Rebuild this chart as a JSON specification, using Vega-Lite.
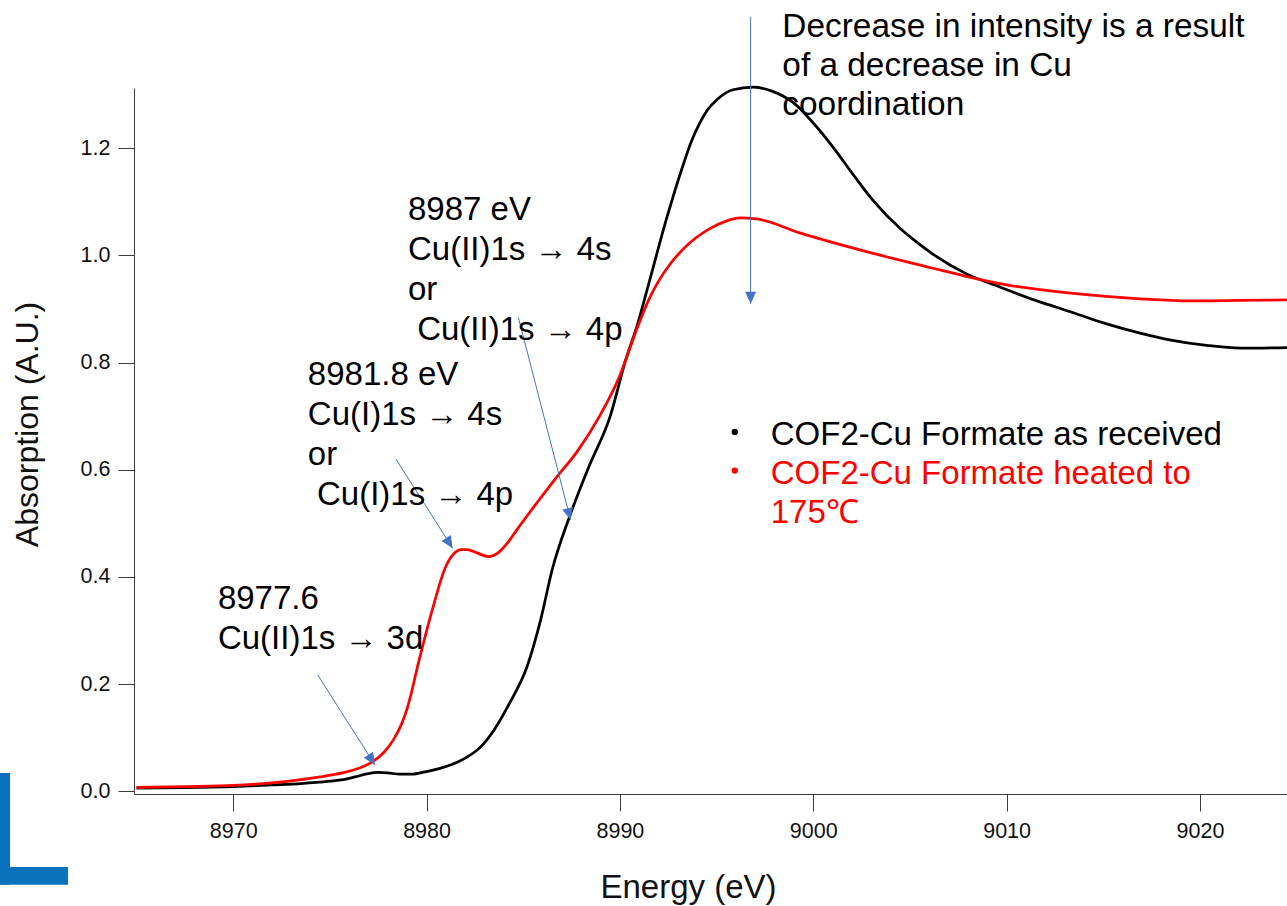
{
  "$schema": "https://vega.github.io/schema/vega-lite/v6.json",
  "width": 1153,
  "height": 706,
  "autosize": {"type": "none"},
  "padding": {"left": 134, "top": 88, "right": 0, "bottom": 112},
  "background": "#ffffff",
  "config": {
    "view": {"stroke": null},
    "font": "Liberation Sans",
    "axis": {
      "grid": false,
      "domainColor": "#3c3c3c",
      "tickColor": "#3c3c3c",
      "labelColor": "#111111",
      "titleColor": "#111111",
      "labelFont": "Liberation Sans",
      "titleFont": "Liberation Sans",
      "titleFontWeight": "normal",
      "labelFontSize": 21.5,
      "titleFontSize": 33,
      "labelOverlap": false,
      "labelFlush": false
    }
  },
  "datasets": {
    "spectra": [
      {"energy": 8965.0, "absorption": 0.006, "sample": "as received"},
      {"energy": 8967.5, "absorption": 0.007, "sample": "as received"},
      {"energy": 8970.0, "absorption": 0.009, "sample": "as received"},
      {"energy": 8972.0, "absorption": 0.012, "sample": "as received"},
      {"energy": 8973.5, "absorption": 0.0145, "sample": "as received"},
      {"energy": 8975.0, "absorption": 0.019, "sample": "as received"},
      {"energy": 8975.7, "absorption": 0.022, "sample": "as received"},
      {"energy": 8976.3, "absorption": 0.027, "sample": "as received"},
      {"energy": 8976.9, "absorption": 0.0325, "sample": "as received"},
      {"energy": 8977.5, "absorption": 0.0355, "sample": "as received"},
      {"energy": 8978.0, "absorption": 0.0345, "sample": "as received"},
      {"energy": 8978.6, "absorption": 0.032, "sample": "as received"},
      {"energy": 8979.2, "absorption": 0.032, "sample": "as received"},
      {"energy": 8980.0, "absorption": 0.037, "sample": "as received"},
      {"energy": 8980.7, "absorption": 0.043, "sample": "as received"},
      {"energy": 8981.3, "absorption": 0.05, "sample": "as received"},
      {"energy": 8982.0, "absorption": 0.062, "sample": "as received"},
      {"energy": 8982.8, "absorption": 0.083, "sample": "as received"},
      {"energy": 8983.5, "absorption": 0.115, "sample": "as received"},
      {"energy": 8984.3, "absorption": 0.165, "sample": "as received"},
      {"energy": 8985.2, "absorption": 0.233, "sample": "as received"},
      {"energy": 8985.9, "absorption": 0.32, "sample": "as received"},
      {"energy": 8986.5, "absorption": 0.414, "sample": "as received"},
      {"energy": 8987.4, "absorption": 0.513, "sample": "as received"},
      {"energy": 8988.4, "absorption": 0.606, "sample": "as received"},
      {"energy": 8989.5, "absorption": 0.7, "sample": "as received"},
      {"energy": 8990.3, "absorption": 0.805, "sample": "as received"},
      {"energy": 8990.9, "absorption": 0.87, "sample": "as received"},
      {"energy": 8991.55, "absorption": 0.955, "sample": "as received"},
      {"energy": 8992.4, "absorption": 1.067, "sample": "as received"},
      {"energy": 8993.3, "absorption": 1.172, "sample": "as received"},
      {"energy": 8993.7, "absorption": 1.213, "sample": "as received"},
      {"energy": 8994.1, "absorption": 1.245, "sample": "as received"},
      {"energy": 8994.5, "absorption": 1.27, "sample": "as received"},
      {"energy": 8995.0, "absorption": 1.29, "sample": "as received"},
      {"energy": 8995.85, "absorption": 1.309, "sample": "as received"},
      {"energy": 8996.9, "absorption": 1.314, "sample": "as received"},
      {"energy": 8997.9, "absorption": 1.306, "sample": "as received"},
      {"energy": 8999.0, "absorption": 1.284, "sample": "as received"},
      {"energy": 9000.0, "absorption": 1.247, "sample": "as received"},
      {"energy": 9001.0, "absorption": 1.203, "sample": "as received"},
      {"energy": 9002.1, "absorption": 1.149, "sample": "as received"},
      {"energy": 9003.1, "absorption": 1.102, "sample": "as received"},
      {"energy": 9004.5, "absorption": 1.05, "sample": "as received"},
      {"energy": 9005.3, "absorption": 1.026, "sample": "as received"},
      {"energy": 9006.2, "absorption": 1.002, "sample": "as received"},
      {"energy": 9007.9, "absorption": 0.966, "sample": "as received"},
      {"energy": 9009.65, "absorption": 0.941, "sample": "as received"},
      {"energy": 9011.5, "absorption": 0.916, "sample": "as received"},
      {"energy": 9013.45, "absorption": 0.893, "sample": "as received"},
      {"energy": 9015.0, "absorption": 0.874, "sample": "as received"},
      {"energy": 9016.9, "absorption": 0.855, "sample": "as received"},
      {"energy": 9018.5, "absorption": 0.842, "sample": "as received"},
      {"energy": 9020.35, "absorption": 0.832, "sample": "as received"},
      {"energy": 9022.1, "absorption": 0.827, "sample": "as received"},
      {"energy": 9024.5, "absorption": 0.828, "sample": "as received"},

      {"energy": 8965.0, "absorption": 0.0075, "sample": "heated to 175℃"},
      {"energy": 8967.5, "absorption": 0.009, "sample": "heated to 175℃"},
      {"energy": 8970.0, "absorption": 0.011, "sample": "heated to 175℃"},
      {"energy": 8972.0, "absorption": 0.016, "sample": "heated to 175℃"},
      {"energy": 8973.3, "absorption": 0.021, "sample": "heated to 175℃"},
      {"energy": 8974.5, "absorption": 0.027, "sample": "heated to 175℃"},
      {"energy": 8975.7, "absorption": 0.035, "sample": "heated to 175℃"},
      {"energy": 8976.5, "absorption": 0.043, "sample": "heated to 175℃"},
      {"energy": 8977.2, "absorption": 0.055, "sample": "heated to 175℃"},
      {"energy": 8977.8, "absorption": 0.073, "sample": "heated to 175℃"},
      {"energy": 8978.3, "absorption": 0.097, "sample": "heated to 175℃"},
      {"energy": 8978.7, "absorption": 0.125, "sample": "heated to 175℃"},
      {"energy": 8979.0, "absorption": 0.155, "sample": "heated to 175℃"},
      {"energy": 8979.65, "absorption": 0.25, "sample": "heated to 175℃"},
      {"energy": 8980.3, "absorption": 0.339, "sample": "heated to 175℃"},
      {"energy": 8981.0, "absorption": 0.42, "sample": "heated to 175℃"},
      {"energy": 8981.4, "absorption": 0.443, "sample": "heated to 175℃"},
      {"energy": 8981.8, "absorption": 0.451, "sample": "heated to 175℃"},
      {"energy": 8982.1, "absorption": 0.451, "sample": "heated to 175℃"},
      {"energy": 8982.6, "absorption": 0.445, "sample": "heated to 175℃"},
      {"energy": 8983.2, "absorption": 0.438, "sample": "heated to 175℃"},
      {"energy": 8983.7, "absorption": 0.445, "sample": "heated to 175℃"},
      {"energy": 8984.2, "absorption": 0.464, "sample": "heated to 175℃"},
      {"energy": 8984.65, "absorption": 0.487, "sample": "heated to 175℃"},
      {"energy": 8985.7, "absorption": 0.538, "sample": "heated to 175℃"},
      {"energy": 8986.7, "absorption": 0.585, "sample": "heated to 175℃"},
      {"energy": 8987.75, "absorption": 0.632, "sample": "heated to 175℃"},
      {"energy": 8988.95, "absorption": 0.7, "sample": "heated to 175℃"},
      {"energy": 8990.0, "absorption": 0.776, "sample": "heated to 175℃"},
      {"energy": 8990.9, "absorption": 0.865, "sample": "heated to 175℃"},
      {"energy": 8991.5, "absorption": 0.918, "sample": "heated to 175℃"},
      {"energy": 8992.0, "absorption": 0.952, "sample": "heated to 175℃"},
      {"energy": 8992.6, "absorption": 0.984, "sample": "heated to 175℃"},
      {"energy": 8993.45, "absorption": 1.018, "sample": "heated to 175℃"},
      {"energy": 8994.65, "absorption": 1.05, "sample": "heated to 175℃"},
      {"energy": 8995.5, "absorption": 1.064, "sample": "heated to 175℃"},
      {"energy": 8996.2, "absorption": 1.07, "sample": "heated to 175℃"},
      {"energy": 8997.07, "absorption": 1.068, "sample": "heated to 175℃"},
      {"energy": 8999.3, "absorption": 1.042, "sample": "heated to 175℃"},
      {"energy": 9002.75, "absorption": 1.007, "sample": "heated to 175℃"},
      {"energy": 9006.2, "absorption": 0.976, "sample": "heated to 175℃"},
      {"energy": 9007.9, "absorption": 0.961, "sample": "heated to 175℃"},
      {"energy": 9010.0, "absorption": 0.945, "sample": "heated to 175℃"},
      {"energy": 9013.45, "absorption": 0.929, "sample": "heated to 175℃"},
      {"energy": 9016.9, "absorption": 0.919, "sample": "heated to 175℃"},
      {"energy": 9019.5, "absorption": 0.915, "sample": "heated to 175℃"},
      {"energy": 9022.0, "absorption": 0.916, "sample": "heated to 175℃"},
      {"energy": 9024.5, "absorption": 0.917, "sample": "heated to 175℃"}
    ],
    "peaks": [
      {"energy": 8979.04, "absorption": 1.1142, "label": "8987 eV\nCu(II)1s → 4s\nor\n\u200b\u00a0Cu(II)1s → 4p"},
      {"energy": 8973.86, "absorption": 0.8063, "label": "8981.8 eV\nCu(I)1s → 4s\nor\n\u200b\u00a0Cu(I)1s → 4p"},
      {"energy": 8969.21, "absorption": 0.3897, "label": "8977.6\nCu(II)1s → 3d"}
    ],
    "note": [
      {"energy": 8998.4, "absorption": 1.4553, "label": "Decrease in intensity is a result\nof a decrease in Cu\ncoordination"}
    ],
    "arrows": [
      {"id": "a", "energy": 8974.37, "absorption": 0.2174, "energy2": 8977.33, "absorption2": 0.0494},
      {"id": "b", "energy": 8978.42, "absorption": 0.6198, "energy2": 8981.35, "absorption2": 0.4537},
      {"id": "c", "energy": 8984.75, "absorption": 0.884, "energy2": 8987.45, "absorption2": 0.5065},
      {"id": "d", "energy": 8996.76, "absorption": 1.4451, "energy2": 8996.76, "absorption2": 0.91}
    ],
    "key": [
      {"energy": 8995.94, "absorption": 0.6707, "sample": "as received", "label": "COF2-Cu Formate as received"},
      {"energy": 8995.94, "absorption": 0.5985, "sample": "heated to 175℃", "label": "COF2-Cu Formate heated to\n175℃"}
    ],
    "logo": [
      {"energy": 8957.5, "energy2": 8958.46, "absorption": 0.0345, "absorption2": -0.1744},
      {"energy": 8957.5, "energy2": 8961.46, "absorption": -0.1409, "absorption2": -0.1744}
    ]
  },
  "encoding": {
    "x": {
      "field": "energy",
      "type": "quantitative",
      "scale": {"domain": [8964.87, 9024.5], "nice": false, "zero": false},
      "axis": {
        "title": "Energy (eV)",
        "values": [8970, 8980, 8990, 9000, 9010, 9020],
        "format": "d",
        "tickSize": 17,
        "labelPadding": 9,
        "titleX": 554,
        "titleY": 103,
        "titleAlign": "center",
        "titleBaseline": "alphabetic"
      }
    },
    "y": {
      "field": "absorption",
      "type": "quantitative",
      "scale": {"domain": [-0.0049, 1.3123], "nice": false, "zero": false},
      "axis": {
        "title": "Absorption (A.U.)",
        "values": [0, 0.2, 0.4, 0.6, 0.8, 1.0, 1.2],
        "format": ".1f",
        "tickSize": 16,
        "labelPadding": 8,
        "titleAngle": -90,
        "titleFontSize": 32,
        "titleX": -97,
        "titleY": 336,
        "titleAlign": "center",
        "titleBaseline": "alphabetic"
      }
    }
  },
  "layer": [
    {
      "data": {"name": "logo"},
      "mark": {"type": "rect", "color": "#0a71bd", "clip": false},
      "encoding": {
        "x2": {"field": "energy2"},
        "y2": {"field": "absorption2"}
      }
    },
    {
      "data": {"name": "spectra"},
      "mark": {"type": "line", "interpolate": "monotone", "strokeWidth": 2.75},
      "encoding": {
        "color": {
          "field": "sample",
          "type": "nominal",
          "scale": {"domain": ["as received", "heated to 175℃"], "range": ["#000000", "#ff0000"]},
          "legend": null
        }
      }
    },
    {
      "data": {"name": "arrows"},
      "mark": {"type": "rule", "color": "#4472c4", "strokeWidth": 1},
      "encoding": {
        "x2": {"field": "energy2"},
        "y2": {"field": "absorption2"}
      }
    },
    {
      "data": {"name": "arrows"},
      "transform": [{"filter": "datum.id === 'a' || datum.id === 'b'"}],
      "mark": {"type": "point", "shape": "M0,0L-0.55,1.2L0.55,1.2Z", "filled": true, "opacity": 1, "color": "#4472c4", "size": 400, "angle": 147.5},
      "encoding": {
        "x": {"field": "energy2", "type": "quantitative"},
        "y": {"field": "absorption2", "type": "quantitative"}
      }
    },
    {
      "data": {"name": "arrows"},
      "transform": [{"filter": "datum.id === 'c'"}],
      "mark": {"type": "point", "shape": "M0,0L-0.55,1.2L0.55,1.2Z", "filled": true, "opacity": 1, "color": "#4472c4", "size": 400, "angle": 165.5},
      "encoding": {
        "x": {"field": "energy2", "type": "quantitative"},
        "y": {"field": "absorption2", "type": "quantitative"}
      }
    },
    {
      "data": {"name": "arrows"},
      "transform": [{"filter": "datum.id === 'd'"}],
      "mark": {"type": "point", "shape": "M0,0L-0.55,1.2L0.55,1.2Z", "filled": true, "opacity": 1, "color": "#4472c4", "size": 400, "angle": 180},
      "encoding": {
        "x": {"field": "energy2", "type": "quantitative"},
        "y": {"field": "absorption2", "type": "quantitative"}
      }
    },
    {
      "data": {"name": "peaks"},
      "mark": {"type": "text", "align": "left", "baseline": "top", "fontSize": 33, "lineHeight": 40, "lineBreak": "\n", "color": "#000000"},
      "encoding": {"text": {"field": "label", "type": "nominal"}}
    },
    {
      "data": {"name": "note"},
      "mark": {"type": "text", "align": "left", "baseline": "top", "fontSize": 33.4, "lineHeight": 39, "lineBreak": "\n", "color": "#000000"},
      "encoding": {"text": {"field": "label", "type": "nominal"}}
    },
    {
      "data": {"name": "key"},
      "mark": {"type": "point", "shape": "circle", "filled": true, "opacity": 1, "size": 40},
      "encoding": {"color": {"field": "sample", "type": "nominal", "legend": null}}
    },
    {
      "data": {"name": "key"},
      "mark": {"type": "text", "align": "left", "baseline": "top", "fontSize": 33, "lineHeight": 39, "lineBreak": "\n", "dx": 36, "dy": -13},
      "encoding": {
        "text": {"field": "label", "type": "nominal"},
        "color": {"field": "sample", "type": "nominal", "legend": null}
      }
    }
  ]
}
